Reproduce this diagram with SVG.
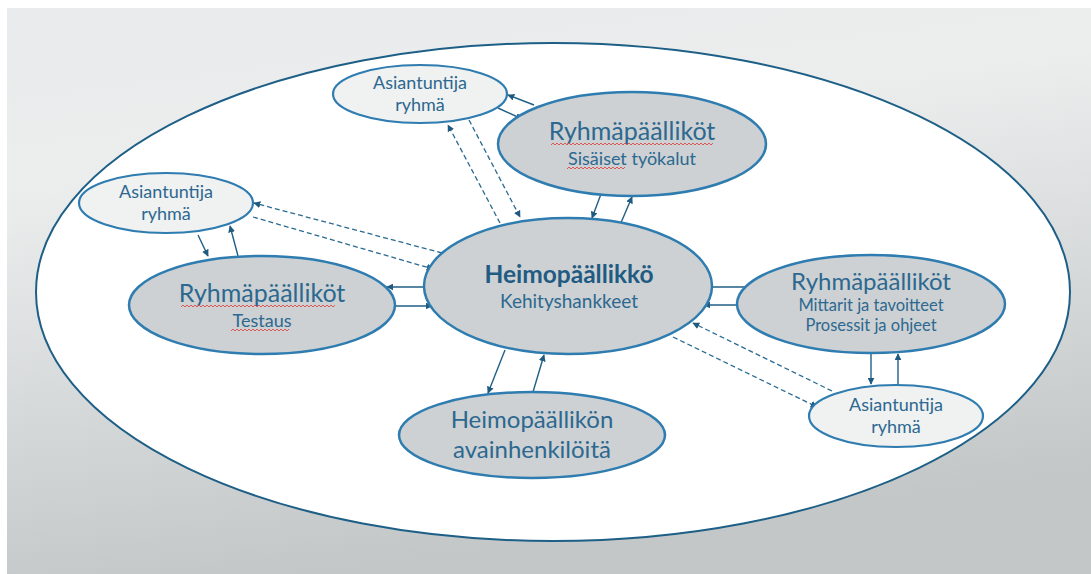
<svg xmlns="http://www.w3.org/2000/svg" width="1091" height="574" viewBox="0 0 1091 574">
<style>
.bg{fill:url(#bgGrad)}
.outer{fill:#ffffff;stroke:#1d5f86;stroke-width:2}
.main{fill:#cdd1d3;stroke:#2e7cb0;stroke-width:2.5}
.expert{fill:#f0f1f1;stroke:#2e7cb0;stroke-width:2.2}
.t{font-family:Lato,"Liberation Sans",sans-serif;fill:#2c6890;text-anchor:middle}
.title{font-size:25px}
.sub{font-size:18px}
.exp{font-size:18px}
.bold{font-weight:bold;fill:#1f5b82;font-size:24.5px}
.c{stroke:#1f5f86;stroke-width:1.4;fill:none}
.d{stroke:#2a6a92;stroke-width:1.3;fill:none;stroke-dasharray:5 3}
.sq{stroke:#e04848;stroke-width:0.9;fill:none}
</style>
<defs>
<linearGradient id="bgGrad" x1="0" y1="0" x2="0.25" y2="1">
<stop offset="0" stop-color="#e8eaeb"/>
<stop offset="0.3" stop-color="#eceeee"/>
<stop offset="1" stop-color="#c3c7c8"/>
</linearGradient>
<marker id="a" viewBox="0 0 10 10" refX="9" refY="5" markerWidth="7" markerHeight="7" orient="auto" markerUnits="userSpaceOnUse">
<path d="M0,0 L10,5 L0,10 z" fill="#1f5a80"/>
</marker>
</defs>
<rect x="7" y="8" width="1084" height="566" class="bg"/>
<ellipse id="outer" class="outer" cx="553" cy="292" rx="517" ry="249"/>

<g id="connectors">
<line class="c" x1="534" y1="105" x2="508" y2="95" marker-end="url(#a)"/>
<line class="c" x1="498" y1="108" x2="522" y2="119" marker-end="url(#a)"/>
<line class="c" x1="601" y1="194" x2="592" y2="218" marker-end="url(#a)"/>
<line class="c" x1="620" y1="225" x2="632" y2="197" marker-end="url(#a)"/>
<line class="d" x1="469" y1="120" x2="520" y2="217" marker-end="url(#a)"/>
<line class="d" x1="500" y1="223" x2="448" y2="125" marker-end="url(#a)"/>
<line class="c" x1="198" y1="235" x2="208" y2="256" marker-end="url(#a)"/>
<line class="c" x1="238" y1="256" x2="230" y2="226" marker-end="url(#a)"/>
<line class="d" x1="442" y1="253" x2="254" y2="203" marker-end="url(#a)"/>
<line class="d" x1="253" y1="217" x2="433" y2="269" marker-end="url(#a)"/>
<line class="c" x1="424" y1="287" x2="387" y2="287" marker-end="url(#a)"/>
<line class="c" x1="395" y1="306" x2="432" y2="306" marker-end="url(#a)"/>
<line class="c" x1="712" y1="287" x2="753" y2="287" marker-end="url(#a)"/>
<line class="c" x1="737" y1="305" x2="704" y2="305" marker-end="url(#a)"/>
<line class="c" x1="871" y1="354" x2="871" y2="384" marker-end="url(#a)"/>
<line class="c" x1="898" y1="385" x2="898" y2="354" marker-end="url(#a)"/>
<line class="d" x1="832" y1="391" x2="693" y2="323" marker-end="url(#a)"/>
<line class="d" x1="673" y1="337" x2="817" y2="407" marker-end="url(#a)"/>
<line class="c" x1="505" y1="350" x2="488" y2="393" marker-end="url(#a)"/>
<line class="c" x1="533" y1="392" x2="544" y2="355" marker-end="url(#a)"/>
</g>

<g id="expert-top">
<ellipse class="expert" cx="420" cy="94" rx="87" ry="29"/>
<text class="t exp" x="420" y="89">Asiantuntija</text>
<text class="t exp" x="420" y="111">ryhmä</text>
</g>

<g id="rp-sisaiset">
<ellipse class="main" cx="632" cy="144" rx="134" ry="52"/>
<text class="t title" x="632" y="140">Ryhmäpäälliköt</text>
<text class="t sub" x="632" y="165">Sisäiset työkalut</text>
<path class="sq" d="M551,145 l2,-2 l2,2 l2,-2 l2,2 l2,-2 l2,2 l2,-2 l2,2 l2,-2 l2,2 l2,-2 l2,2 l2,-2 l2,2 l2,-2 l2,2 l2,-2 l2,2 l2,-2 l2,2 l2,-2 l2,2 l2,-2 l2,2 l2,-2 l2,2 l2,-2 l2,2 l2,-2 l2,2 l2,-2 l2,2 l2,-2 l2,2 l2,-2 l2,2 l2,-2 l2,2 l2,-2 l2,2 l2,-2 l2,2 l2,-2 l2,2 l2,-2 l2,2 l2,-2 l2,2 l2,-2 l2,2 l2,-2 l2,2 l2,-2 l2,2 l2,-2 l2,2 l2,-2 l2,2 l2,-2 l2,2 l2,-2 l2,2 l2,-2 l2,2 l2,-2 l2,2 l2,-2 l2,2 l2,-2 l2,2 l2,-2 l2,2 l2,-2 l2,2 l2,-2 l2,2 l2,-2 l2,2 l2,-2 l2,2 l2,-2"/>
<path class="sq" d="M567,169 l2,-2 l2,2 l2,-2 l2,2 l2,-2 l2,2 l2,-2 l2,2 l2,-2 l2,2 l2,-2 l2,2 l2,-2 l2,2 l2,-2 l2,2 l2,-2 l2,2 l2,-2 l2,2 l2,-2 l2,2 l2,-2 l2,2 l2,-2 l2,2 l2,-2 l2,2 l2,-2"/>
</g>

<g id="expert-left">
<ellipse class="expert" cx="166" cy="203" rx="87" ry="30"/>
<text class="t exp" x="166" y="198">Asiantuntija</text>
<text class="t exp" x="166" y="220">ryhmä</text>
</g>

<g id="rp-testaus">
<ellipse class="main" cx="262" cy="305" rx="133" ry="49"/>
<text class="t title" x="262" y="302">Ryhmäpäälliköt</text>
<text class="t sub" x="262" y="327">Testaus</text>
<path class="sq" d="M181,307 l2,-2 l2,2 l2,-2 l2,2 l2,-2 l2,2 l2,-2 l2,2 l2,-2 l2,2 l2,-2 l2,2 l2,-2 l2,2 l2,-2 l2,2 l2,-2 l2,2 l2,-2 l2,2 l2,-2 l2,2 l2,-2 l2,2 l2,-2 l2,2 l2,-2 l2,2 l2,-2 l2,2 l2,-2 l2,2 l2,-2 l2,2 l2,-2 l2,2 l2,-2 l2,2 l2,-2 l2,2 l2,-2 l2,2 l2,-2 l2,2 l2,-2 l2,2 l2,-2 l2,2 l2,-2 l2,2 l2,-2 l2,2 l2,-2 l2,2 l2,-2 l2,2 l2,-2 l2,2 l2,-2 l2,2 l2,-2 l2,2 l2,-2 l2,2 l2,-2 l2,2 l2,-2 l2,2 l2,-2 l2,2 l2,-2 l2,2 l2,-2 l2,2 l2,-2 l2,2 l2,-2"/>
<path class="sq" d="M231,331 l2,-2 l2,2 l2,-2 l2,2 l2,-2 l2,2 l2,-2 l2,2 l2,-2 l2,2 l2,-2 l2,2 l2,-2 l2,2 l2,-2 l2,2 l2,-2 l2,2 l2,-2 l2,2 l2,-2 l2,2 l2,-2 l2,2 l2,-2 l2,2 l2,-2 l2,2 l2,-2"/>
</g>

<g id="heimopaallikko">
<ellipse class="main" cx="568" cy="286" rx="144" ry="68"/>
<text class="t bold" x="569" y="283">Heimopäällikkö</text>
<text class="t sub" x="569" y="308" style="font-size:19px">Kehityshankkeet</text>
</g>

<g id="rp-mittarit">
<ellipse class="main" cx="871" cy="304" rx="134" ry="49"/>
<text class="t title" x="871" y="290" style="font-size:24px">Ryhmäpäälliköt</text>
<text class="t sub" x="871" y="311" style="font-size:16.5px">Mittarit ja tavoitteet</text>
<text class="t sub" x="871" y="331" style="font-size:16.5px">Prosessit ja ohjeet</text>
</g>

<g id="expert-right">
<ellipse class="expert" cx="896" cy="416" rx="87" ry="31"/>
<text class="t exp" x="896" y="411">Asiantuntija</text>
<text class="t exp" x="896" y="433">ryhmä</text>
</g>

<g id="avainhenkilot">
<ellipse class="main" cx="532" cy="435" rx="133" ry="43"/>
<text class="t" x="532" y="428" style="font-size:24px">Heimopäällikön</text>
<text class="t" x="532" y="458" style="font-size:24px">avainhenkilöitä</text>
</g>
</svg>
